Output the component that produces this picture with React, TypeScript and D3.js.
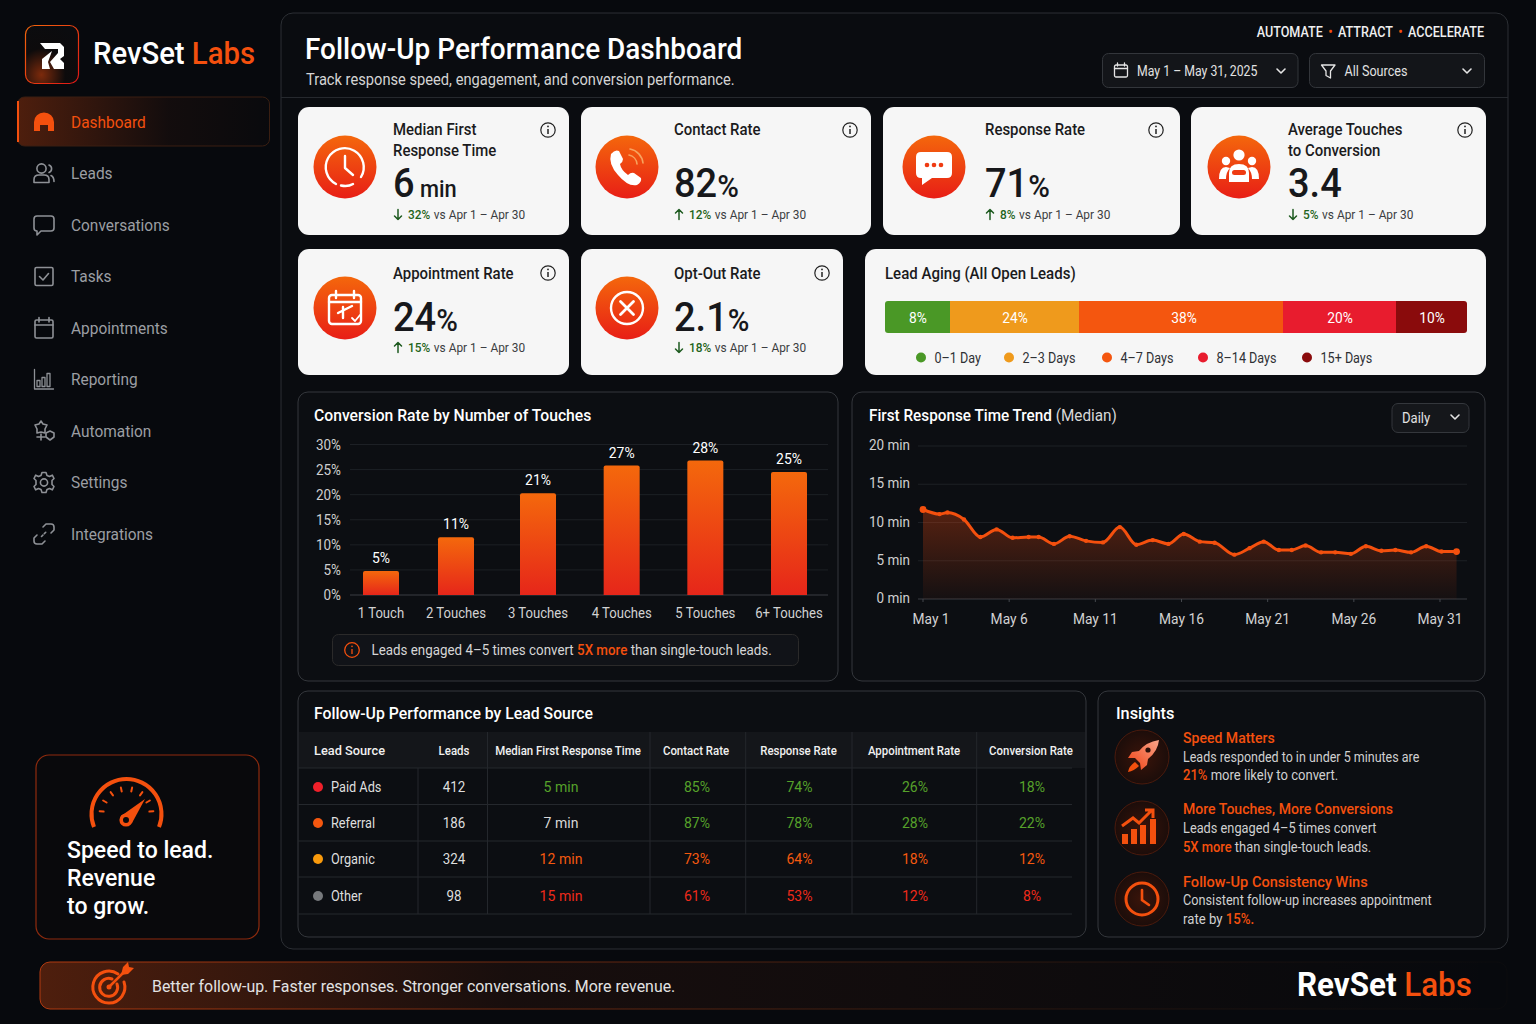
import * as d3 from "d3";

const navItems = ["Dashboard", "Leads", "Conversations", "Tasks", "Appointments", "Reporting", "Automation", "Settings", "Integrations"];

const kpiTitles = [["Median First", "Response Time"], ["Contact Rate"], ["Response Rate"], ["Average Touches", "to Conversion"], ["Appointment Rate"], ["Opt-Out Rate"]];
const kpiValues = ["6", "82", "71", "3.4", "24", "2.1"];
const kpiUnits = [" min", "%", "%", "", "%", "%"];
const kpiDeltas = ["32%", "12%", "8%", "5%", "15%", "18%"];
const kpiDirections = ["down", "up", "up", "down", "up", "down"];

const agingLabels = ["0–1 Day", "2–3 Days", "4–7 Days", "8–14 Days", "15+ Days"];
const agingShares = [8, 24, 38, 20, 10];
const agingColors = ["#4a9826", "#ef9a1c", "#f4560f", "#e81c2e", "#8a0b0c"];

const touchLabels = ["1 Touch", "2 Touches", "3 Touches", "4 Touches", "5 Touches", "6+ Touches"];
const touchRates = [4.8, 11.5, 20.3, 25.8, 26.8, 24.5];
const touchRateLabels = ["5%", "11%", "21%", "27%", "28%", "25%"];
const touchTicks = [0, 5, 10, 15, 20, 25, 30];

const trendDays = [1, 1.96, 2.42, 3.38, 4.33, 5.27, 6.2, 7.13, 7.71, 8.6, 9.51, 10.46, 11.44, 12.42, 13.38, 14.33, 15.24, 16.13, 17.06, 17.92, 19.07, 19.95, 20.77, 21.65, 22.4, 23.2, 24.1, 24.92, 25.83, 26.7, 27.6, 28.41, 29.32, 30.2, 31.09, 31.96];
const trendMinutes = [11.7, 11.1, 11.3, 10.4, 8.1, 9.1, 8.0, 8.1, 8.1, 7.2, 8.2, 7.6, 7.4, 9.4, 7.1, 7.7, 7.2, 8.5, 7.5, 7.35, 5.8, 6.65, 7.5, 6.4, 6.4, 7.0, 6.1, 6.1, 5.9, 6.9, 6.3, 6.4, 6.1, 6.9, 6.2, 6.2];
const trendTickDays = [1, 6, 11, 16, 21, 26, 31];
const trendTicks = [0, 5, 10, 15, 20];

const tableHeaders = ["Leads", "Median First Response Time", "Contact Rate", "Response Rate", "Appointment Rate", "Conversion Rate"];
const tableSources = ["Paid Ads", "Referral", "Organic", "Other"];
const sourceColors = ["#f0202a", "#f4570f", "#f99a0c", "#77797c"];
const tableLeads = ["412", "186", "324", "98"];
const tableMedian = ["5 min", "7 min", "12 min", "15 min"];
const tableContact = ["85%", "87%", "73%", "61%"];
const tableResponse = ["74%", "78%", "64%", "53%"];
const tableAppointment = ["26%", "28%", "18%", "12%"];
const tableConversion = ["18%", "22%", "12%", "8%"];
const medianTones = ["#56a12a", "#d8d8d8", "#f4590f", "#ee2a1a"];
const rateTones = ["#56a12a", "#56a12a", "#f4590f", "#ee2a1a"];

const font = "Roboto, sans-serif";
const orange = "#f4500e";

const barX = d3.scaleLinear().domain([0, 1, 2, 5]).range([381, 456, 538, 789]);
const barY = d3.scaleLinear().domain([0, 30]).range([595, 444.5]);
const trendX = d3.scaleLinear().domain([1, 31]).range([923, 1440]);
const trendY = d3.scaleLinear().domain([0, 20]).range([599, 446]);
const agingCum = [0, 8, 32, 70, 90, 100];
const agingX = d3.scaleLinear().domain(agingCum).range([885, 950, 1079, 1283, 1396, 1467]);

const trendPoints = trendDays.map((day, i) => ({ day, value: trendMinutes[i] }));
const trendLine = d3.line<{ day: number; value: number }>().x((p) => trendX(p.day)).y((p) => trendY(p.value)).curve(d3.curveMonotoneX);
const trendArea = d3.area<{ day: number; value: number }>().x((p) => trendX(p.day)).y0(trendY(0)).y1((p) => trendY(p.value)).curve(d3.curveMonotoneX);

// the reference type is narrower than Roboto, so every label gets a horizontal squeeze
function T({ x, y, size = 14, fill = "#fff", weight = 400, anchor = "start", sx = 0.95, children }: any) {
  return (
    <text transform={`translate(${x},${y}) scale(${sx},1)`} fontSize={size} fill={fill} fontWeight={weight} textAnchor={anchor} fontFamily={font}>
      {children}
    </text>
  );
}

function Chevron({ x, y, color = "#e5e5e5" }: any) {
  return <path d={`M${x - 4} ${y - 2} L${x} ${y + 2} L${x + 4} ${y - 2}`} fill="none" stroke={color} strokeWidth={1.6} strokeLinecap="round" strokeLinejoin="round" />;
}

function Info({ x, y }: any) {
  return (
    <g transform={`translate(${x},${y})`} fill="none" stroke="#222" strokeWidth={1.2}>
      <circle r={7.2} />
      <line x1={0} x2={0} y1={-1} y2={4} strokeWidth={1.5} />
      <circle cy={-3.6} r={0.9} fill="#222" stroke="none" />
    </g>
  );
}

function NavIcon({ index }: { index: number }) {
  const s = { fill: "none", stroke: "#8e9196", strokeWidth: 1.6, strokeLinecap: "round" as const, strokeLinejoin: "round" as const };
  if (index === 0) return <path d="M-10 9 V0 A10 9.5 0 0 1 10 0 V9 H4 V3 H-4 V9 Z" fill={orange} />;
  if (index === 1) return (
    <g {...s}>
      <circle cx={-2.5} cy={-5} r={4.6} />
      <path d="M-10 9 V6 Q-10 1.5 -5 1.5 H0 Q5 1.5 5 6 V9 Z" />
      <path d="M5 -8.5 A4 4 0 0 1 5 -1 M7 2 Q10 3.5 10 8" />
    </g>
  );
  if (index === 2) return <path {...s} d="M-7 -9 H7 Q10 -9 10 -6 V3 Q10 6 7 6 H-3 L-7 10 V6 Q-10 6 -10 3 V-6 Q-10 -9 -7 -9 Z" />;
  if (index === 3) return (
    <g {...s}>
      <rect x={-9} y={-9} width={18} height={18} rx={1.5} />
      <path d="M-4.5 0 L-1 3.5 L4.5 -3" />
    </g>
  );
  if (index === 4) return (
    <g {...s}>
      <rect x={-9} y={-8} width={18} height={18} rx={1.5} />
      <path d="M-9 -3 H9 M-5 -10.5 V-6 M5 -10.5 V-6" />
    </g>
  );
  if (index === 5) return (
    <g {...s} strokeWidth={1.3}>
      <path d="M-9.5 -10 V9.5 H9.5" />
      <rect x={-7} y={1} width={3} height={6} />
      <rect x={-2} y={-2} width={3} height={9} />
      <rect x={3} y={-6} width={3} height={13} />
    </g>
  );
  if (index === 6) return (
    <g {...s}>
      <path d="M-3 -10 L-1 -7 L3 -6 L1 -2 L1 2 L-3 1 L-7 2 L-7 -2 L-9 -6 L-5 -7 Z" />
      <path d="M6 0 L10 2 V6 L6 9 L2 6 V2 Z" />
      <path d="M-3 3 V9 M-7 6 H1" />
    </g>
  );
  if (index === 7) return (
    <g {...s}>
      <circle r={3.6} />
      <path d="M-2 -10 H2 L3 -7 L5.5 -6 L8.3 -7.3 L10 -4 L8 -2 V2 L10 4 L8.3 7.3 L5.5 6 L3 7 L2 10 H-2 L-3 7 L-5.5 6 L-8.3 7.3 L-10 4 L-8 2 V-2 L-10 -4 L-8.3 -7.3 L-5.5 -6 L-3 -7 Z" />
    </g>
  );
  return (
    <g {...s}>
      <path d="M-1 -7 L2 -10 H7 Q10 -10 10 -7 V-4 L7 -1" />
      <path d="M1 7 L-2 10 H-7 Q-10 10 -10 7 V4 L-7 1" />
      <path d="M-2.5 2.5 L2.5 -2.5" strokeDasharray="2 2" />
    </g>
  );
}

function KpiGlyph({ index }: { index: number }) {
  const s = { fill: "none", stroke: "#fff", strokeWidth: 2.4, strokeLinecap: "round" as const, strokeLinejoin: "round" as const };
  if (index === 0) return (
    <g {...s}>
      <path d="M-9 17 A19 19 0 1 1 16 10" />
      <path d="M-4 18.5 Q3 20 8 17" />
      <path d="M0 -11 V1 L8 8" />
    </g>
  );
  if (index === 1) return (
    <g>
      <path d="M-16 -13 Q-12 -18 -8 -16 L-4 -8 Q-4 -5 -7 -3 Q-6 3 1 8 Q4 5 7 6 L14 11 Q15 15 10 18 Q1 20 -9 8 Q-19 -3 -16 -13 Z" fill="#fff" />
      <path d="M2 -12 A10 10 0 0 1 10 -3 M3 -18 A16 16 0 0 1 16 -4" {...s} stroke="#f7a35f" strokeWidth={1.6} />
    </g>
  );
  if (index === 2) return (
    <g>
      <path d="M-13 -15 H13 Q18 -15 18 -10 V6 Q18 11 13 11 H-2 L-12 18 V11 H-13 Q-18 11 -18 6 V-10 Q-18 -15 -13 -15 Z" fill="#fff" />
      {[-7, 0, 7].map((cx) => <circle key={cx} cx={cx} cy={-2} r={2.3} fill="#ef3b12" />)}
    </g>
  );
  if (index === 3) return (
    <g fill="#fff">
      <circle cy={-12} r={5.6} />
      <circle cx={-13} cy={-6} r={4.2} />
      <circle cx={13} cy={-6} r={4.2} />
      <path d="M-20 12 Q-20 0 -13 0 L-9 1 Q-13 5 -13 12 Z M20 12 Q20 0 13 0 L9 1 Q13 5 13 12 Z" />
      <path d="M-10 15 V6 Q-10 -3 0 -3 Q10 -3 10 6 V15 Z" />
      <rect x={-7} y={3} width={14} height={5} rx={2.5} fill="#ef3b12" />
    </g>
  );
  if (index === 4) return (
    <g {...s}>
      <rect x={-16} y={-13} width={32} height={29} rx={3} />
      <path d="M-16 -6 H16 M-9 -17 V-10 M9 -17 V-10" />
      <path d="M-7 5 L7 -2 M-2 -1 V10" />
      <path d="M7 10 L10 13 L15 7" strokeWidth={1.8} />
    </g>
  );
  return (
    <g {...s}>
      <circle r={16} />
      <path d="M-6.5 -6.5 L6.5 6.5 M6.5 -6.5 L-6.5 6.5" strokeWidth={2.8} />
    </g>
  );
}

function Kpi({ index, x, y, w, h, iconX, textX, infoX }: any) {
  const up = kpiDirections[index] === "up";
  const lower = index >= 4;
  const titleY = y + (lower ? 30 : 28);
  const titles = kpiTitles[index];
  const valueY = lower ? y + 82 : y + 90;
  const deltaY = lower ? y + 103 : y + 112;
  const cy = lower ? y + 59 : y + 60;
  const isMin = kpiUnits[index] === " min";
  return (
    <g>
      <rect x={x} y={y} width={w} height={h} rx={11} fill="#f6f6f6" />
      <circle cx={iconX} cy={cy} r={31.5} fill="url(#iconFill)" />
      <g transform={`translate(${iconX},${cy})`}><KpiGlyph index={index} /></g>
      {titles.map((line: string, i: number) => (
        <T key={line} x={textX} y={titleY + i * 21} size={16} sx={0.935} fill="#1b1b1d" weight={500}>{line}</T>
      ))}
      <T x={textX} y={valueY} size={40} sx={0.95} fill="#17181b" weight={500}>
        {kpiValues[index]}
        <tspan fontSize={isMin ? 23 : 31} fontWeight={500}>{kpiUnits[index]}</tspan>
      </T>
      <g transform={`translate(${textX + 5},${deltaY - 4.5})`} stroke="#1d5a1f" strokeWidth={1.5} fill="none" strokeLinecap="round" strokeLinejoin="round">
        {up ? <path d="M0 5 V-5 M-3.5 -1.5 L0 -5 L3.5 -1.5" /> : <path d="M0 -5 V5 M-3.5 1.5 L0 5 L3.5 1.5" />}
      </g>
      <T x={textX + 15} y={deltaY} size={13.2} sx={0.9}>
        <tspan fill="#1f6420" fontWeight={500}>{kpiDeltas[index]}</tspan>
        <tspan fill="#3b3d41" dx={4}>vs Apr 1 – Apr 30</tspan>
      </T>
      <Info x={infoX} y={lower ? y + 24 : y + 23} />
    </g>
  );
}

const kpiBoxes = [
  { x: 298, y: 107, w: 271, h: 128, iconX: 345, textX: 393, infoX: 548 },
  { x: 581, y: 107, w: 290, h: 128, iconX: 627, textX: 674, infoX: 850 },
  { x: 883, y: 107, w: 297, h: 128, iconX: 934, textX: 985, infoX: 1156 },
  { x: 1191, y: 107, w: 295, h: 128, iconX: 1239, textX: 1288, infoX: 1465 },
  { x: 298, y: 249, w: 271, h: 126, iconX: 345, textX: 393, infoX: 548 },
  { x: 581, y: 249, w: 262, h: 126, iconX: 627, textX: 674, infoX: 822 },
];

const agingLegendX = [921, 1009, 1107, 1203, 1307];
const tableColX = [454, 568, 696, 798.5, 914, 1031];
const medianValueX = 561;
const tableRules = [418, 487.5, 650, 745.7, 852, 976.7];
const tableRowY = [787, 823, 859, 896];
const tableRowRules = [768, 804.5, 841, 877, 914];

function Panel({ x, y, w, h }: any) {
  return <rect x={x} y={y} width={w} height={h} rx={10} fill="#0c0e12" stroke="#34373c" strokeWidth={1} />;
}

function InsightIcon({ y, children }: any) {
  return (
    <g transform={`translate(1142,${y})`}>
      <circle r={27} fill="url(#insightFill)" stroke="#4a1a0c" strokeWidth={1} />
      {children}
    </g>
  );
}

export default function App() {
  const isLast = (i: number) => i === 0 || i === trendPoints.length - 1;
  return (
    <svg width={1536} height={1024} viewBox="0 0 1536 1024" style={{ position: "absolute", left: 0, top: 0, background: "#07090d" }}>
      <defs>
        <linearGradient id="iconFill" x1="0" y1="0" x2="0" y2="1">
          <stop offset="0" stopColor="#f4670c" />
          <stop offset="1" stopColor="#e81e16" />
        </linearGradient>
        <linearGradient id="barFill" x1="0" y1="0" x2="0" y2="1">
          <stop offset="0" stopColor="#f4680c" />
          <stop offset="1" stopColor="#e6261a" />
        </linearGradient>
        <linearGradient id="areaFill" x1="0" y1="0" x2="0" y2="1">
          <stop offset="0" stopColor="#e8480f" stopOpacity={0.34} />
          <stop offset="1" stopColor="#e8480f" stopOpacity={0.04} />
        </linearGradient>
        <linearGradient id="navFill" x1="0" y1="0" x2="1" y2="0">
          <stop offset="0" stopColor="#f4500e" stopOpacity={0.3} />
          <stop offset="0.6" stopColor="#f4500e" stopOpacity={0.05} />
          <stop offset="1" stopColor="#f4500e" stopOpacity={0.01} />
        </linearGradient>
        <linearGradient id="bannerFill" x1="0" y1="0" x2="1" y2="0">
          <stop offset="0" stopColor="#f4500e" stopOpacity={0.3} />
          <stop offset="0.32" stopColor="#f4500e" stopOpacity={0.07} />
          <stop offset="1" stopColor="#f4500e" stopOpacity={0} />
        </linearGradient>
        <linearGradient id="bannerStroke" x1="0" y1="0" x2="1" y2="0">
          <stop offset="0" stopColor="#b23a10" />
          <stop offset="0.5" stopColor="#4a2010" />
          <stop offset="1" stopColor="#1a1410" stopOpacity={0.2} />
        </linearGradient>
        <linearGradient id="logoStroke" x1="0" y1="0" x2="1" y2="1">
          <stop offset="0" stopColor="#f4670c" />
          <stop offset="1" stopColor="#e01616" />
        </linearGradient>
        <radialGradient id="logoFill" cx="0.3" cy="0.85" r="0.9">
          <stop offset="0" stopColor="#7c2a0c" />
          <stop offset="0.5" stopColor="#0d0b0c" />
          <stop offset="1" stopColor="#0b0c0f" />
        </radialGradient>
        <radialGradient id="insightFill">
          <stop offset="0" stopColor="#3a140a" />
          <stop offset="1" stopColor="#1c0d0a" />
        </radialGradient>
        <linearGradient id="rocketFill" x1="1" y1="0" x2="0" y2="1">
          <stop offset="0" stopColor="#f9a58a" />
          <stop offset="1" stopColor="#ee3e10" />
        </linearGradient>
      </defs>

      {/* sidebar */}
      <rect x={25.5} y={25.5} width={53} height={58} rx={9} fill="url(#logoFill)" stroke="url(#logoStroke)" strokeWidth={1.2} />
      <path d="M40 43 H60 L64 47 V56 L60 59 L64 63 V69 H54 L50 62 L58 53 V49 H45 Z M42 59 L52 51 L48 62 L50 69 H42 Z" fill="#fff" />
      <T x={93} y={64} size={32} sx={0.915} weight={500}>
        RevSet <tspan fill={orange}>Labs</tspan>
      </T>
      <rect x={17.5} y={97} width={252} height={49} rx={7} fill="url(#navFill)" stroke="#3a1f12" />
      <path d="M18 101 V142" stroke={orange} strokeWidth={2} />
      {navItems.map((item, i) => {
        const y = d3.scaleLinear().domain([0, 8]).range([122, 534])(i);
        return (
          <g key={item}>
            <g transform={`translate(44,${y})`}><NavIcon index={i} /></g>
            <T x={71} y={y + 5.5} size={16.8} sx={0.92} fill={i === 0 ? orange : "#9b9ea3"}>{item}</T>
          </g>
        );
      })}

      <rect x={36} y={755} width={223} height={184} rx={13} fill="#09090c" stroke="#8f2b0e" strokeWidth={1.2} />
      <g fill="none" stroke={orange} strokeLinecap="round">
        <path d="M94 827 A35 35 0 1 1 159 827" strokeWidth={4} strokeLinecap="butt" />
        {[-84, -60, -36, -12, 12, 36, 60, 84].map((a) => (
          <line key={a} x1={126.5} x2={126.5} y1={787} y2={791} strokeWidth={2} transform={`rotate(${a} 126.5 814)`} />
        ))}
        <path d="M121 816 L145 799 L132 823 Z" fill={orange} stroke="none" />
        <circle cx={126} cy={820} r={4.8} strokeWidth={3.6} fill="#09090c" />
      </g>
      {["Speed to lead.", "Revenue", "to grow."].map((line, i) => (
        <T key={line} x={67} y={858 + i * 28} size={24.5} sx={0.94} weight={500}>{line}</T>
      ))}

      {/* main panel */}
      <rect x={281} y={13} width={1227} height={936} rx={12} fill="#0a0c10" stroke="#2c2f34" />
      <line x1={281} x2={1508} y1={97.5} y2={97.5} stroke="#26292e" />
      <T x={305} y={59} size={30} sx={0.932} weight={500}>Follow-Up Performance Dashboard</T>
      <T x={306} y={85} size={16} sx={0.917} fill="#d4d4d4">Track response speed, engagement, and conversion performance.</T>
      <T x={1484} y={37} anchor="end" size={14} sx={0.9} weight={500} fill="#f0f0f0">
        AUTOMATE<tspan fill={orange} dx={6}>•</tspan><tspan dx={6}>ATTRACT</tspan><tspan fill={orange} dx={6}>•</tspan><tspan dx={6}>ACCELERATE</tspan>
      </T>
      <rect x={1102.5} y={53.5} width={195.5} height={34} rx={6} fill="#131519" stroke="#33363b" />
      <g transform="translate(1121,71)" fill="none" stroke="#e5e5e5" strokeWidth={1.3} strokeLinecap="round">
        <rect x={-6.5} y={-6} width={13} height={12} rx={1.5} />
        <path d="M-6.5 -2.5 H6.5 M-3.5 -8 V-5 M3.5 -8 V-5" />
      </g>
      <T x={1137} y={76} size={14.3} sx={0.86} fill="#e2e2e2">May 1 – May 31, 2025</T>
      <Chevron x={1281} y={71} />
      <rect x={1309.5} y={53.5} width={175} height={34} rx={6} fill="#131519" stroke="#33363b" />
      <path d="M1321.5 65 H1335 L1330.5 71 V78 L1326 75.5 V71 Z" fill="none" stroke="#e5e5e5" strokeWidth={1.3} strokeLinejoin="round" />
      <T x={1344.5} y={76} size={14.3} sx={0.88} fill="#e2e2e2">All Sources</T>
      <Chevron x={1467} y={71} />

      {kpiBoxes.map((box, i) => <Kpi key={i} index={i} {...box} />)}

      {/* lead aging */}
      <rect x={865} y={249} width={621} height={126} rx={11} fill="#f6f6f6" />
      <T x={885} y={279} size={16} sx={0.94} fill="#1b1b1d" weight={500}>Lead Aging (All Open Leads)</T>
      <clipPath id="agingClip"><rect x={885} y={301} width={582} height={32} rx={3} /></clipPath>
      <g clipPath="url(#agingClip)">
        {agingShares.map((share, i) => (
          <rect key={agingLabels[i]} x={agingX(agingCum[i])} y={301} width={agingX(agingCum[i + 1]) - agingX(agingCum[i])} height={32} fill={agingColors[i]} />
        ))}
      </g>
      {agingShares.map((share, i) => (
        <T key={share} x={(agingX(agingCum[i]) + agingX(agingCum[i + 1])) / 2 + (i === 2 ? 3 : 0.5)} y={322.5} size={14.5} weight={400} anchor="middle">{share}%</T>
      ))}
      {agingLabels.map((label, i) => (
        <g key={label}>
          <circle cx={agingLegendX[i]} cy={357.5} r={5} fill={agingColors[i]} />
          <T x={agingLegendX[i] + 13.5} y={362.5} size={14.3} sx={0.88} fill="#2f3135">{label}</T>
        </g>
      ))}

      {/* conversion bars */}
      <Panel x={298} y={392} w={540} h={289} />
      <T x={314} y={421} size={17} sx={0.925} weight={500}>Conversion Rate by Number of Touches</T>
      {touchTicks.map((tick) => (
        <g key={tick}>
          <line x1={350} x2={828} y1={barY(tick)} y2={barY(tick)} stroke={tick === 0 ? "#3a3d42" : "#1d2025"} />
          <T x={341} y={barY(tick) + 5} size={14.5} sx={0.93} fill="#cfcfcf" anchor="end">{tick}%</T>
        </g>
      ))}
      {touchRates.map((rate, i) => (
        <g key={touchLabels[i]}>
          <path d={`M${barX(i) - 18} ${barY(0)} V${barY(rate) + 2} Q${barX(i) - 18} ${barY(rate)} ${barX(i) - 16} ${barY(rate)} H${barX(i) + 16} Q${barX(i) + 18} ${barY(rate)} ${barX(i) + 18} ${barY(rate) + 2} V${barY(0)} Z`} fill="url(#barFill)" />
          <T x={barX(i)} y={barY(rate) - 8} size={15} sx={0.93} weight={400} anchor="middle">{touchRateLabels[i]}</T>
          <T x={barX(i)} y={618} size={15} sx={0.875} fill="#d2d2d2" anchor="middle">{touchLabels[i]}</T>
        </g>
      ))}
      <rect x={332.5} y={634.5} width={466} height={31} rx={6} fill="#111318" stroke="#2b2a2a" />
      <g transform="translate(352,650)" fill="none" stroke={orange} strokeWidth={1.3}>
        <circle r={7.3} />
        <path d="M0 -1 V4" />
        <circle cy={-3.6} r={0.8} fill={orange} stroke="none" />
      </g>
      <T x={371.5} y={655} size={14.6} sx={0.915} fill="#d6d6d6">
        Leads engaged 4–5 times convert <tspan fill={orange} fontWeight={500}>5X more</tspan> than single-touch leads.
      </T>

      {/* response time trend */}
      <Panel x={852} y={392} w={633} h={289} />
      <T x={869} y={421} size={17} sx={0.9} weight={500}>
        First Response Time Trend <tspan fontWeight={400} fill="#d8d8d8">(Median)</tspan>
      </T>
      <rect x={1392} y={403.5} width={77} height={29} rx={6} fill="#15171b" stroke="#34373c" />
      <T x={1402} y={423} size={14.5} sx={0.9} fill="#e2e2e2">Daily</T>
      <Chevron x={1455} y={417} />
      {trendTicks.map((tick) => (
        <g key={tick}>
          <line x1={918} x2={1467} y1={trendY(tick)} y2={trendY(tick)} stroke={tick === 0 ? "#3a3d42" : "#1d2025"} />
          <T x={910} y={trendY(tick) + 4} size={15} sx={0.9} fill="#cfcfcf" anchor="end">{tick} min</T>
        </g>
      ))}
      <path d={trendArea(trendPoints) ?? ""} fill="url(#areaFill)" />
      <path d={trendLine(trendPoints) ?? ""} fill="none" stroke="#f4500e" strokeWidth={3} strokeLinejoin="round" />
      {trendPoints.map((p, i) => (
        <circle key={p.day} cx={trendX(p.day)} cy={trendY(p.value)} r={isLast(i) ? 3.4 : 2.2} fill="#f4500e" />
      ))}
      {trendTickDays.map((day, i) => (
        <g key={day}>
          <line x1={trendX(day)} x2={trendX(day)} y1={599} y2={602} stroke="#44474c" />
          <T x={trendX(day) + (i === 0 ? 8 : 0)} y={624} size={15} sx={0.92} fill="#d2d2d2" anchor="middle">{`May ${day}`}</T>
        </g>
      ))}

      {/* lead source table */}
      <Panel x={298} y={691} w={788} h={246} />
      <T x={314} y={719} size={17} sx={0.93} weight={500}>Follow-Up Performance by Lead Source</T>
      <rect x={299} y={732} width={786} height={36} fill="#14161a" />
      <T x={314} y={755} size={13.6} sx={0.94} weight={500} fill="#f0f0f0">Lead Source</T>
      {tableHeaders.map((header, i) => (
        <T key={header} x={tableColX[i]} y={755} size={12.7} sx={0.9} weight={500} fill="#f0f0f0" anchor="middle">{header}</T>
      ))}
      {tableRowRules.map((y) => <line key={y} x1={298} x2={1072} y1={y} y2={y} stroke="#25282d" />)}
      {tableRules.map((x, i) => <line key={x} x1={x} x2={x} y1={i === 0 ? 768 : 732} y2={914} stroke="#24272c" />)}
      {tableSources.map((source, r) => (
        <g key={source}>
          <circle cx={318} cy={tableRowY[r]} r={5} fill={sourceColors[r]} />
          <T x={331} y={tableRowY[r] + 5} size={14.5} sx={0.88} fill="#dedede">{source}</T>
          <T x={tableColX[0]} y={tableRowY[r] + 5} size={14.5} sx={0.92} fill="#dedede" anchor="middle">{tableLeads[r]}</T>
          <T x={medianValueX} y={tableRowY[r] + 5} size={14.8} sx={0.95} fill={medianTones[r]} anchor="middle">{tableMedian[r]}</T>
          {[tableContact, tableResponse, tableAppointment, tableConversion].map((col, c) => (
            <T key={c} x={tableColX[c + 2] + 1} y={tableRowY[r] + 5} size={14.8} sx={0.95} fill={rateTones[r]} anchor="middle">{col[r]}</T>
          ))}
        </g>
      ))}

      {/* insights */}
      <Panel x={1098} y={691} w={387} h={246} />
      <T x={1116} y={719} size={17} sx={0.96} weight={500}>Insights</T>
      <InsightIcon y={757}>
        <path d="M17 -17 Q4 -15 -3 -6 L-10 -5 L-14 1 L-7 1 L-2 6 L-1 13 L5 8 L6 2 Q16 -6 17 -17 Z" fill="url(#rocketFill)" />
        <circle cx={6} cy={-7} r={2.6} fill="#2a100a" />
        <path d="M-7 5 L-3 9 Q-8 14 -14 15 Q-13 9 -7 5 Z" fill={orange} />
      </InsightIcon>
      <InsightIcon y={828}>
        <g fill={orange}>
          <rect x={-20} y={6} width={6} height={10} />
          <rect x={-11} y={1} width={6} height={15} />
          <rect x={-2} y={-3} width={6} height={19} />
          <rect x={8} y={-9} width={6} height={25} />
        </g>
        <path d="M-20 -2 L-9 -10 L-3 -5 L9 -17 M3 -18 H11 V-10" fill="none" stroke={orange} strokeWidth={3} />
      </InsightIcon>
      <InsightIcon y={899}>
        <circle r={16} fill="none" stroke={orange} strokeWidth={3} />
        <path d="M0 -9 V1 L7 6" fill="none" stroke={orange} strokeWidth={2.6} strokeLinecap="round" />
      </InsightIcon>
      <T x={1183} y={743} size={15.5} sx={0.907} weight={500} fill={orange}>Speed Matters</T>
      <T x={1183} y={762} size={14.2} sx={0.88} fill="#d0d0d0">Leads responded to in under 5 minutes are</T>
      <T x={1183} y={780} size={14.2} sx={0.92} fill="#d0d0d0"><tspan fill={orange} fontWeight={500}>21%</tspan> more likely to convert.</T>
      <T x={1183} y={814} size={15.5} sx={0.907} weight={500} fill={orange}>More Touches, More Conversions</T>
      <T x={1183} y={833} size={14.2} sx={0.9} fill="#d0d0d0">Leads engaged 4–5 times convert</T>
      <T x={1183} y={852} size={14.2} sx={0.91} fill="#d0d0d0"><tspan fill={orange} fontWeight={500}>5X more</tspan> than single-touch leads.</T>
      <T x={1183} y={887} size={15.5} sx={0.94} weight={500} fill={orange}>Follow-Up Consistency Wins</T>
      <T x={1183} y={905} size={14.2} sx={0.895} fill="#d0d0d0">Consistent follow-up increases appointment</T>
      <T x={1183} y={924} size={14.2} sx={0.93} fill="#d0d0d0">rate by <tspan fill={orange} fontWeight={500}>15%.</tspan></T>

      {/* footer banner */}
      <rect x={40} y={962} width={1467} height={47} rx={10} fill="url(#bannerFill)" stroke="url(#bannerStroke)" />
      <g transform="translate(109,987)" fill="none" stroke={orange} strokeLinecap="round">
        <path d="M9 -13 A16 16 0 1 0 15 -5" strokeWidth={3} />
        <path d="M3 -8 A9 9 0 1 0 8 -3" strokeWidth={3} />
        <circle r={2.5} fill={orange} stroke="none" />
        <path d="M0 0 L14 -14" strokeWidth={2.5} />
        <path d="M12 -12 L14 -20 L19 -25 L20 -20 L25 -19 L19 -13 Z" fill={orange} stroke="none" />
      </g>
      <T x={152} y={992} size={17} sx={0.937} fill="#e2e2e2">Better follow-up. Faster responses. Stronger conversations. More revenue.</T>
      <T x={1297} y={996} size={33} sx={0.95} weight={700}>
        RevSet <tspan fill={orange} fontWeight={500}>Labs</tspan>
      </T>
    </svg>
  );
}
